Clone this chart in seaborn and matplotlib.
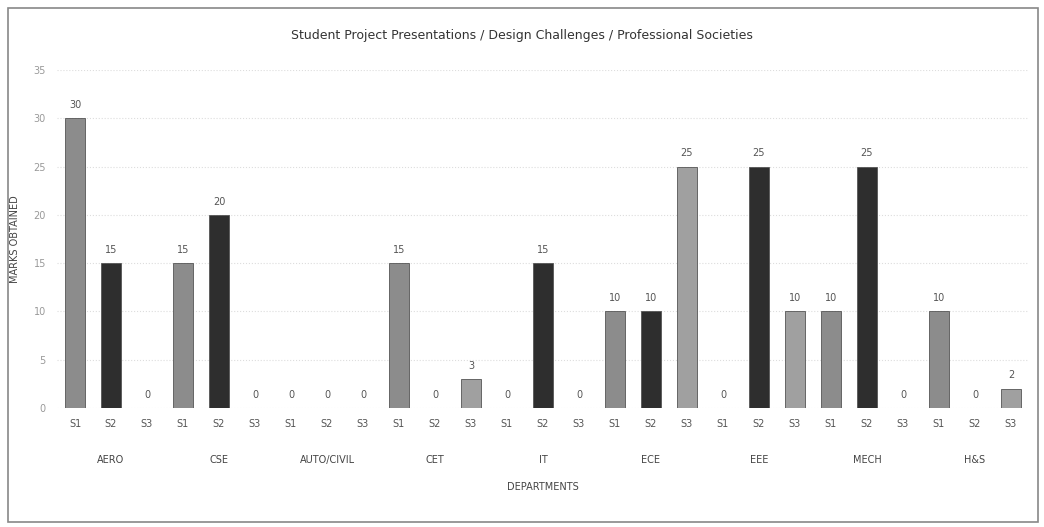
import pandas as pd
import matplotlib.pyplot as plt
import seaborn as sns
from matplotlib.patches import Rectangle

# Chart data
departments = ['AERO', 'CSE', 'AUTO/CIVIL', 'CET', 'IT', 'ECE', 'EEE', 'MECH', 'H&S']
sessions = ['S1', 'S2', 'S3']
s1_marks = [30, 15, 0, 15, 0, 10, 0, 10, 10]
s2_marks = [15, 20, 0, 0, 15, 10, 25, 25, 0]
s3_marks = [0, 0, 0, 3, 0, 25, 10, 0, 2]

rows = []
for i, dept in enumerate(departments):
    for s, vals in zip(sessions, [s1_marks, s2_marks, s3_marks]):
        rows.append({'slot': f'{dept} {s}', 'dept': dept, 'session': s, 'marks': vals[i]})
df = pd.DataFrame(rows)

sns.set_style('white')
plt.rcParams['font.family'] = ['DejaVu Sans']

fig = plt.figure(figsize=(10.44, 5.27), dpi=100)
ax = fig.add_axes([0.0546, 0.226, 0.931, 0.641])

palette = {'S1': '#8c8c8c', 'S2': '#2e2e2e', 'S3': '#a0a0a0'}
sns.barplot(data=df, x='slot', y='marks', hue='session', palette=palette,
            dodge=False, width=0.55, legend=False, ax=ax, edgecolor='#555555', linewidth=0.6)

ax.set_ylim(0, 35)
ax.set_xlim(-0.5, len(df) - 0.5)
ax.set_yticks(range(0, 36, 5))
ax.tick_params(axis='y', labelsize=7, colors='#999999', length=0, pad=8)
ax.set_xticks(range(len(df)))
ax.set_xticklabels(df['session'], fontsize=7, color='#555555')
ax.tick_params(axis='x', length=0, pad=8)
ax.yaxis.grid(True, linestyle=':', color='#dddddd', linewidth=0.8)
ax.set_axisbelow(True)
for sp in ax.spines.values():
    sp.set_visible(False)

# value labels
for c in ax.containers:
    ax.bar_label(c, fmt='%d', padding=6, fontsize=7, color='#555555')

# department labels under each group of three
for i, dept in enumerate(departments):
    ax.text(i * 3 + 1, -0.155, dept, transform=ax.get_xaxis_transform(),
            ha='center', va='center', fontsize=7, color='#444444')

ax.set_xlabel('DEPARTMENTS', fontsize=7, color='#444444', labelpad=38)
ax.set_ylabel('MARKS OBTAINED', fontsize=7, color='#444444', labelpad=10)
fig.suptitle('Student Project Presentations / Design Challenges / Professional Societies',
             y=0.945, fontsize=9, color='#333333')

# outer frame
fig.patches.append(Rectangle((0.008, 0.01), 0.986, 0.975, transform=fig.transFigure,
                             fill=False, edgecolor='#888888', linewidth=1.2))

fig.savefig('out.png', dpi=100)
